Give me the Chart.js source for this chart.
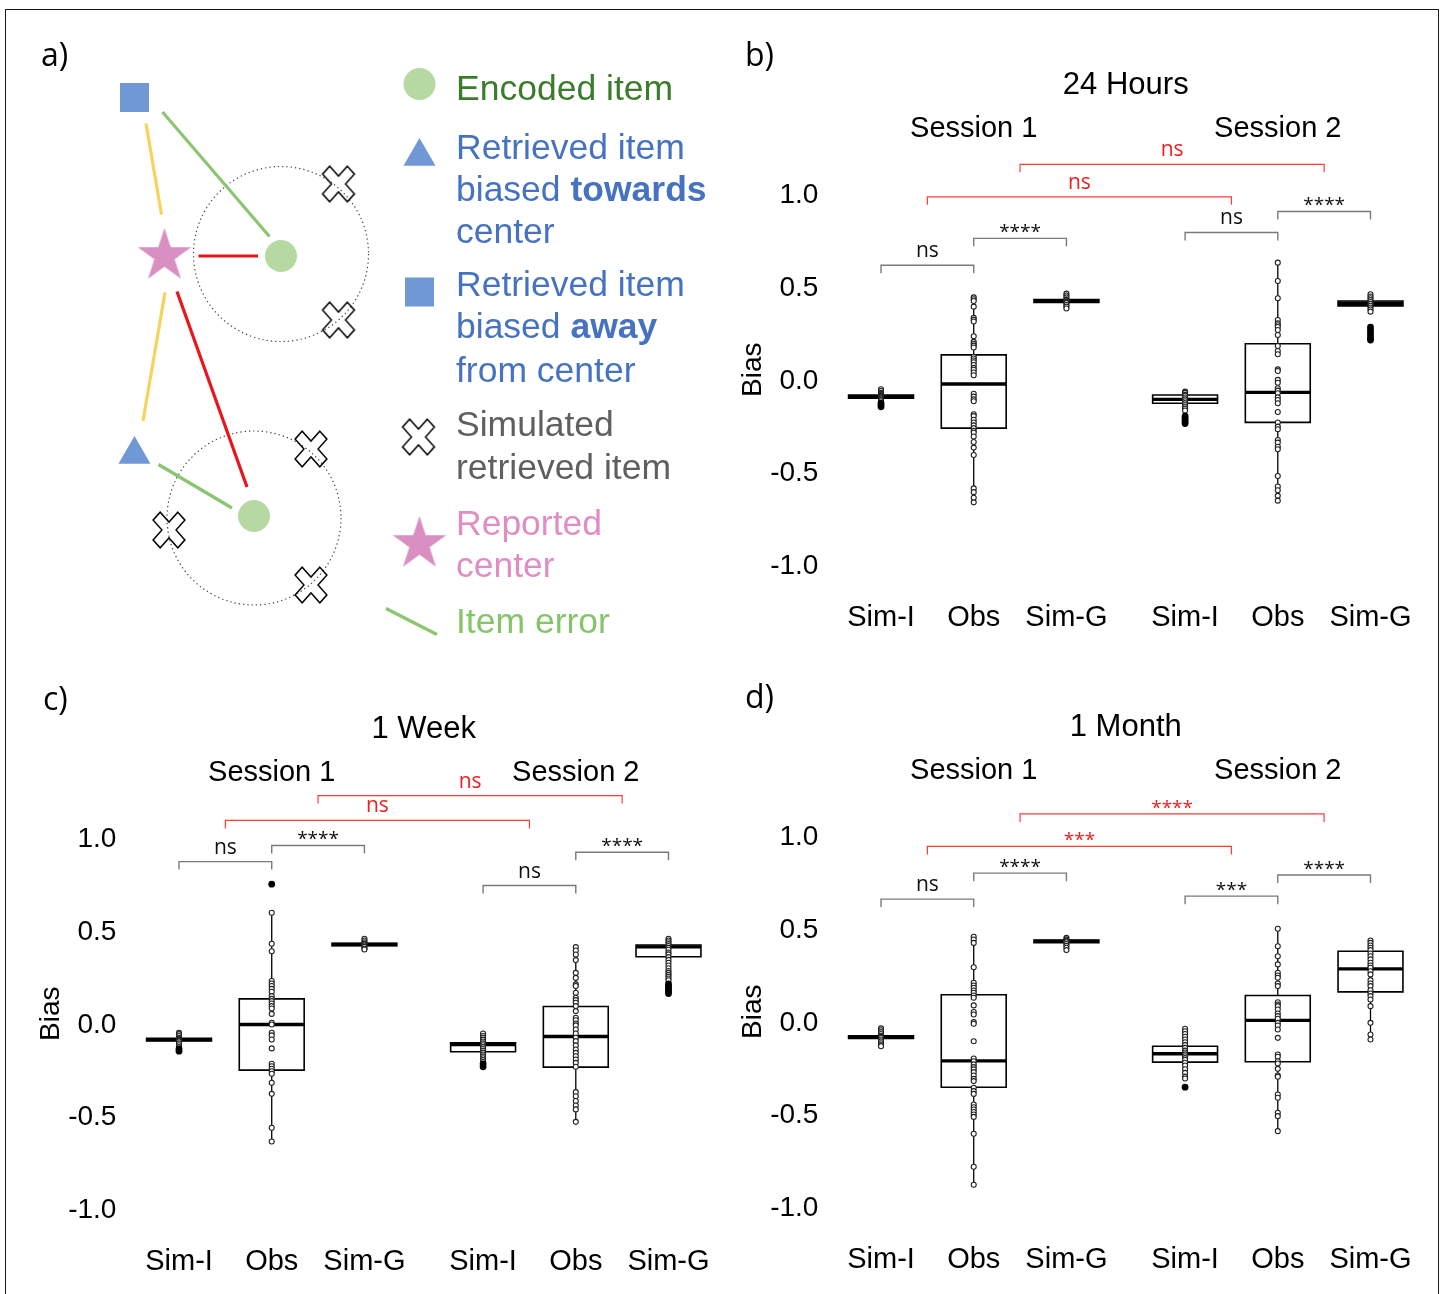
<!DOCTYPE html>
<html>
<head>
<meta charset="utf-8">
<title>Bias by retention delay</title>
<script src="https://cdn.jsdelivr.net/npm/chart.js@4.4.1/dist/chart.umd.min.js"></script>
<style>
  html, body { margin: 0; padding: 0; background: #fff; }
  body { width: 1443px; height: 1294px; position: relative; overflow: hidden; }
  #frame { position: absolute; left: 5px; top: 9px; width: 1434px; height: 1320px; border: 1.5px solid #1a1a1a; box-sizing: border-box; }
  canvas { position: absolute; }
</style>
</head>
<body>
<div id="frame"></div>
<canvas id="diagram" width="714" height="650" style="left:6px;top:10px"></canvas>
<canvas id="hours" width="710" height="620" style="left:730px;top:30px"></canvas>
<canvas id="week" width="710" height="620" style="left:28px;top:674px"></canvas>
<canvas id="month" width="710" height="620" style="left:730px;top:672px"></canvas>
<script>
const SANS = '"Liberation Sans", Arial, sans-serif';
const OPEN = '"Open Sans", "DejaVu Sans", sans-serif';

// ---- data ----
const categories = ['Sim-I', 'Obs', 'Sim-G', 'Sim-I', 'Obs', 'Sim-G'];
const catPos = [1, 2, 3, 4.28, 5.28, 6.28];
const yTickValues = [-1, -0.5, 0, 0.5, 1];
const sessions = ['Session 1', 'Session 2'];
// compared pairs (category index, .5 = between two boxes)
const comparisons = [[0, 1], [1, 2], [3, 4], [4, 5], [0.5, 3.5], [1.5, 4.5]];

// b) 24 hours
const hoursQ1 = [-0.104, -0.265, 0.412, -0.131, -0.234, 0.394];
const hoursMedian = [-0.095, -0.027, 0.42, -0.11, -0.072, 0.408];
const hoursQ3 = [-0.086, 0.13, 0.428, -0.086, 0.19, 0.42];
const hoursPoints = [
  [-0.055, -0.065, -0.075, -0.08, -0.085, -0.09, -0.095, -0.1, -0.105, -0.11, -0.115, -0.12],
  [0.44, 0.43, 0.42, 0.39, 0.33, 0.32, 0.31, 0.23, 0.20, 0.19, 0.18, 0.17, 0.12, 0.11, 0.10, 0.09, 0.075, 0.06, 0.05, 0.035, 0.02,
   -0.08, -0.095, -0.11, -0.12, -0.19, -0.20, -0.22, -0.235, -0.25, -0.265, -0.28, -0.29, -0.31, -0.34, -0.37, -0.41, -0.59, -0.61, -0.64, -0.665],
  [0.46, 0.45, 0.44, 0.43, 0.425, 0.42, 0.415, 0.41, 0.40, 0.39, 0.38],
  [-0.068, -0.075, -0.085, -0.09, -0.1, -0.11, -0.12, -0.13, -0.14, -0.15, -0.16, -0.17],
  [0.627, 0.528, 0.435, 0.318, 0.30, 0.29, 0.28, 0.264, 0.237, 0.178, 0.151, 0.133, 0.052, 0.043, -0.005, -0.02, -0.05, -0.063,
   -0.077, -0.099, -0.113, -0.131, -0.178, -0.235, -0.257, -0.271, -0.329, -0.343, -0.365, -0.379, -0.523, -0.58, -0.60, -0.63, -0.656],
  [0.457, 0.445, 0.435, 0.425, 0.415, 0.405, 0.395, 0.385, 0.375, 0.363]
];
const hoursOutliers = [[-0.13, -0.14, -0.15], [], [], [-0.2, -0.21, -0.22, -0.23, -0.24], [], [0.28, 0.265, 0.25, 0.235, 0.22, 0.21]];
const hoursSignif = ['ns', '****', 'ns', '****', 'ns', 'ns'];

// c) 1 week
const weekQ1 = [-0.097, -0.254, 0.416, -0.155, -0.238, 0.357];
const weekMedian = [-0.09, -0.008, 0.423, -0.116, -0.073, 0.41];
const weekQ3 = [-0.083, 0.13, 0.43, -0.107, 0.089, 0.42];
const weekPoints = [
  [-0.053, -0.06, -0.07, -0.08, -0.085, -0.09, -0.095, -0.1, -0.11, -0.12, -0.13],
  [0.594, 0.427, 0.387, 0.226, 0.213, 0.199, 0.184, 0.168, 0.145, 0.13, 0.118, 0.105, 0.091, 0.078, 0.049, 0.001, -0.008, -0.053,
   -0.067, -0.089, -0.137, -0.22, -0.233, -0.247, -0.26, -0.274, -0.322, -0.382, -0.565, -0.639],
  [0.454, 0.445, 0.435, 0.428, 0.423, 0.418, 0.41, 0.40, 0.396],
  [-0.057, -0.07, -0.08, -0.09, -0.1, -0.11, -0.12, -0.13, -0.14, -0.15, -0.16, -0.17, -0.18, -0.19, -0.2, -0.21],
  [0.409, 0.391, 0.369, 0.339, 0.27, 0.243, 0.208, 0.199, 0.163, 0.136, 0.123, 0.109, 0.091, 0.064, 0.028, 0.015, -0.003, -0.013,
   -0.035, -0.057, -0.08, -0.098, -0.121, -0.143, -0.161, -0.179, -0.197, -0.215, -0.236, -0.373, -0.395, -0.421, -0.445, -0.466, -0.533],
  [0.454, 0.445, 0.435, 0.425, 0.415, 0.405, 0.395, 0.38, 0.37, 0.355, 0.34, 0.325, 0.31, 0.295, 0.28, 0.27, 0.26, 0.25, 0.24, 0.23]
];
const weekOutliers = [[-0.14, -0.152], [0.748], [], [-0.22, -0.236], [], [0.21, 0.2, 0.19, 0.18, 0.17, 0.159]];
const weekSignif = ['ns', '****', 'ns', '****', 'ns', 'ns'];

// d) 1 month
const monthQ1 = [-0.094, -0.357, 0.422, -0.222, -0.22, 0.157];
const monthMedian = [-0.087, -0.215, 0.429, -0.177, 0.003, 0.281];
const monthQ3 = [-0.08, 0.141, 0.436, -0.136, 0.137, 0.376];
const monthPoints = [
  [-0.04, -0.05, -0.06, -0.07, -0.08, -0.085, -0.09, -0.1, -0.11, -0.12, -0.13, -0.136],
  [0.454, 0.439, 0.421, 0.29, 0.206, 0.191, 0.179, 0.164, 0.152, 0.137, 0.125, 0.084, 0.048, 0.035, -0.006, -0.015, -0.109, -0.202,
   -0.217, -0.234, -0.249, -0.261, -0.276, -0.294, -0.312, -0.324, -0.36, -0.378, -0.393, -0.45, -0.465, -0.477, -0.491, -0.504,
   -0.517, -0.608, -0.786, -0.883],
  [0.448, 0.44, 0.434, 0.429, 0.424, 0.415, 0.405, 0.395, 0.382],
  [-0.042, -0.055, -0.07, -0.085, -0.1, -0.115, -0.13, -0.145, -0.16, -0.17, -0.18, -0.19, -0.2, -0.21, -0.225, -0.24, -0.26, -0.28, -0.3, -0.31],
  [0.497, 0.403, 0.349, 0.305, 0.26, 0.245, 0.233, 0.202, 0.188, 0.101, 0.089, 0.08, 0.062, 0.04, 0.026, 0.012, -0.01, -0.024,
   -0.046, -0.091, -0.181, -0.193, -0.217, -0.229, -0.258, -0.294, -0.301, -0.396, -0.414, -0.495, -0.513, -0.594],
  [0.434, 0.421, 0.407, 0.395, 0.382, 0.364, 0.349, 0.332, 0.314, 0.299, 0.287, 0.268, 0.251, 0.22, 0.202, 0.188, 0.166, 0.148,
   0.134, 0.116, 0.08, -0.01, -0.073, -0.1]
];
const monthOutliers = [[], [], [], [-0.357], [], []];
const monthSignif = ['ns', '****', '***', '****', '***', '****'];

// a) diagram (canvas coordinates of the figure)
const encodedItems = [[281, 256], [254, 516], [419.5, 84]];
const towardItems = [[134.5, 454.5], [419.5, 156.5]];
const awayItems = [[134.5, 97.5], [419.5, 292]];
const simulatedItems = [[338.5, 184], [338.5, 320], [311, 449], [169, 530], [311, 585], [418.5, 437]];
const reportedCenters = [[164.5, 256], [419.5, 544]];
const errorCircles = [{ c: [281, 254], r: 87.5 }, { c: [254, 518], r: 87 }];
const links = [
  { from: [146, 123.5], to: [161.5, 214.5], kind: 'dist' },
  { from: [165, 292.5], to: [143, 421], kind: 'dist' },
  { from: [162.5, 112], to: [269.5, 236.5], kind: 'item' },
  { from: [158.5, 464.5], to: [232, 508], kind: 'item' },
  { from: [198.5, 256], to: [258, 256], kind: 'center' },
  { from: [177, 291.5], to: [247, 487], kind: 'center' },
  { from: [386, 608.5], to: [437, 634.5], kind: 'item' }
];
const legendRows = [
  { y: 100, color: '#3b7b2c', parts: [['Encoded item', false]] },
  { y: 159, color: '#4672c2', parts: [['Retrieved item', false]] },
  { y: 201, color: '#4672c2', parts: [['biased ', false], ['towards', true]] },
  { y: 243, color: '#4672c2', parts: [['center', false]] },
  { y: 295.5, color: '#4672c2', parts: [['Retrieved item', false]] },
  { y: 338, color: '#4672c2', parts: [['biased ', false], ['away', true]] },
  { y: 381.5, color: '#4672c2', parts: [['from center', false]] },
  { y: 435.5, color: '#5f5f5f', parts: [['Simulated', false]] },
  { y: 479, color: '#5f5f5f', parts: [['retrieved item', false]] },
  { y: 535, color: '#e08dc4', parts: [['Reported', false]] },
  { y: 577, color: '#e08dc4', parts: [['center', false]] },
  { y: 633, color: '#86c46b', parts: [['Item error', false]] }
];

// ---- styling helpers ----
const linkColors = { dist: '#f6d35c', item: '#8cc572', center: '#e8161c' };

function starImage(R, color) {
  const c = document.createElement('canvas');
  const size = Math.ceil(2 * R) + 2;
  c.width = size; c.height = size;
  const g = c.getContext('2d');
  g.translate(size / 2, size / 2);
  g.beginPath();
  for (let k = 0; k < 10; k++) {
    const rr = k % 2 ? R * 0.382 : R;
    const a = -Math.PI / 2 + k * Math.PI / 5;
    g.lineTo(rr * Math.cos(a), rr * Math.sin(a));
  }
  g.closePath();
  g.fillStyle = color;
  g.fill();
  return c;
}

function crossImage() {
  const c = document.createElement('canvas');
  c.width = 40; c.height = 44;
  const g = c.getContext('2d');
  g.translate(20, 22);
  g.scale(1, 1.12);
  g.rotate(Math.PI / 4);
  const t = 5, L = 17.5;
  const pts = [[-t, -L], [t, -L], [t, -t], [L, -t], [L, t], [t, t], [t, L], [-t, L], [-t, t], [-L, t], [-L, -t], [-t, -t]];
  g.beginPath();
  pts.forEach(([a, b], k) => k ? g.lineTo(a, b) : g.moveTo(a, b));
  g.closePath();
  g.lineWidth = 1.4;
  g.strokeStyle = '#000';
  g.stroke();
  return c;
}

function markerSet(list, style, radius, color) {
  return {
    data: list.map(([x, y]) => ({ x, y })),
    pointStyle: style, pointRadius: radius,
    pointBackgroundColor: color, pointBorderColor: color, pointBorderWidth: 0,
    order: 1
  };
}

// ---- a) diagram ----
const diagramDecor = {
  id: 'diagramDecor',
  beforeDatasetsDraw(chart) {
    const { ctx } = chart, x = chart.scales.x, y = chart.scales.y;
    ctx.save();
    ctx.setLineDash([1.3, 3]);
    ctx.strokeStyle = '#444';
    ctx.lineWidth = 1.2;
    errorCircles.forEach(e => {
      ctx.beginPath();
      ctx.arc(x.getPixelForValue(e.c[0]), y.getPixelForValue(e.c[1]), e.r, 0, Math.PI * 2);
      ctx.stroke();
    });
    ctx.restore();
  },
  afterDraw(chart) {
    const { ctx } = chart, x = chart.scales.x, y = chart.scales.y;
    ctx.save();
    ctx.textBaseline = 'alphabetic';
    ctx.textAlign = 'left';
    ctx.fillStyle = '#000';
    ctx.font = '32px ' + OPEN;
    ctx.fillText('a)', 35, 56);
    legendRows.forEach(row => {
      let xx = x.getPixelForValue(456);
      row.parts.forEach(([txt, bold]) => {
        ctx.font = (bold ? 'bold ' : '') + '35.5px ' + SANS;
        ctx.fillStyle = row.color;
        ctx.fillText(txt, xx, y.getPixelForValue(row.y));
        xx += ctx.measureText(txt).width;
      });
    });
    ctx.restore();
  }
};

new Chart(document.getElementById('diagram'), {
  type: 'scatter',
  data: {
    datasets: [
      markerSet(encodedItems, 'circle', 16, '#b6d9a3'),
      markerSet(towardItems, 'triangle', 18.5, '#6f98d5'),
      markerSet(awayItems, 'rect', 20.5, '#6f98d5'),
      markerSet(reportedCenters, starImage(28, '#d98fc1'), 10, '#d98fc1'),
      markerSet(simulatedItems, crossImage(), 10, '#111'),
      ...links.map(l => ({
        data: [{ x: l.from[0], y: l.from[1] }, { x: l.to[0], y: l.to[1] }],
        showLine: true, borderColor: linkColors[l.kind], borderWidth: 3.2,
        pointRadius: 0, order: 2
      }))
    ]
  },
  options: {
    responsive: false, animation: false, events: [], devicePixelRatio: 1,
    layout: { padding: 0, autoPadding: false },
    scales: {
      x: { type: 'linear', display: false, min: 6, max: 720 },
      y: { type: 'linear', display: false, min: 10, max: 660, reverse: true }
    },
    plugins: { legend: { display: false }, tooltip: { enabled: false } }
  },
  plugins: [diagramDecor]
});

// ---- b), c), d) box plots ----
function posAt(i) {
  const lo = Math.floor(i), hi = Math.ceil(i);
  return catPos[lo] + (catPos[hi] - catPos[lo]) * (i - lo);
}

function seg(coords, width, order, cap) {
  return {
    data: coords.map(([x, y]) => ({ x, y })),
    showLine: true, borderColor: '#000', borderWidth: width,
    borderCapStyle: cap || 'butt', pointRadius: 0, order
  };
}

function boxDatasets(p) {
  const hw = 0.35, ds = [];
  catPos.forEach((cx, i) => {
    const pts = p.points[i];
    const lo = Math.min(...pts), hi = Math.max(...pts);
    ds.push(seg([[cx, p.q3[i]], [cx, hi]], 1.3, 4));
    ds.push(seg([[cx, p.q1[i]], [cx, lo]], 1.3, 4));
    ds.push(seg([[cx - hw, p.q1[i]], [cx + hw, p.q1[i]], [cx + hw, p.q3[i]], [cx - hw, p.q3[i]], [cx - hw, p.q1[i]]], 1.6, 3, 'square'));
    ds.push(seg([[cx - hw, p.median[i]], [cx + hw, p.median[i]]], 3.4, 2));
    ds.push({
      data: pts.map(v => ({ x: cx, y: v })),
      pointRadius: 2.5, pointBackgroundColor: '#fff', pointBorderColor: '#222', pointBorderWidth: 1.1, order: 1
    });
    if (p.outliers[i].length) {
      ds.push({
        data: p.outliers[i].map(v => ({ x: cx, y: v })),
        pointRadius: 3.4, pointBackgroundColor: '#000', pointBorderColor: '#000', pointBorderWidth: 0, order: 0
      });
    }
  });
  return ds;
}

function annotator(p) {
  return {
    id: 'annot_' + p.id,
    afterDraw(chart) {
      const { ctx } = chart, x = chart.scales.x, y = chart.scales.y;
      ctx.save();
      ctx.fillStyle = '#000';
      ctx.textAlign = 'left';
      ctx.textBaseline = 'alphabetic';
      ctx.font = '32px ' + OPEN;
      ctx.fillText(p.letter, 15, 36);

      ctx.textAlign = 'center';
      ctx.textBaseline = 'middle';
      ctx.font = '31px ' + SANS;
      ctx.fillText(p.title, x.getPixelForValue(3.64), y.getPixelForValue(1.58));
      ctx.font = '29px ' + SANS;
      ctx.fillText(sessions[0], x.getPixelForValue(catPos[1]), y.getPixelForValue(1.345));
      ctx.fillText(sessions[1], x.getPixelForValue(catPos[4]), y.getPixelForValue(1.345));

      comparisons.forEach(([a, b], k) => {
        const red = k >= 4;
        const x1 = x.getPixelForValue(posAt(a)), x2 = x.getPixelForValue(posAt(b));
        const yy = y.getPixelForValue(p.bracketY[k]);
        ctx.strokeStyle = red ? '#ff3a3a' : '#7a7a7a';
        ctx.lineWidth = red ? 1.2 : 1.4;
        ctx.beginPath();
        ctx.moveTo(x1, yy + 8);
        ctx.lineTo(x1, yy);
        ctx.lineTo(x2, yy);
        ctx.lineTo(x2, yy + 8);
        ctx.stroke();
        const lab = p.signif[k];
        const star = lab.charAt(0) === '*';
        ctx.fillStyle = red ? '#f01e1e' : '#111';
        ctx.textBaseline = 'alphabetic';
        ctx.font = (star ? '19px ' : '21px ') + OPEN;
        ctx.fillText(lab, (x1 + x2) / 2, star ? yy : yy - 8);
      });
      ctx.restore();
    }
  };
}

function panelChart(p) {
  return new Chart(document.getElementById(p.id), {
    type: 'scatter',
    data: { datasets: boxDatasets(p) },
    options: {
      responsive: false, animation: false, events: [], devicePixelRatio: 1,
      layout: { padding: { left: 0, right: 21.3, top: 117.1, bottom: 0 }, autoPadding: false },
      scales: {
        x: {
          type: 'linear', min: 0.4, max: 6.8,
          grid: { display: false, drawTicks: false }, border: { display: false },
          afterBuildTicks: s => { s.ticks = catPos.map(v => ({ value: v })); },
          afterFit: s => { s.height = 57.7; },
          ticks: {
            autoSkip: false, maxRotation: 0, padding: 8, color: '#000',
            font: { family: SANS, size: 29 },
            callback: (v, i) => categories[i]
          }
        },
        y: {
          type: 'linear', min: -1.15, max: 1.25,
          grid: { display: false, drawTicks: false }, border: { display: false },
          afterBuildTicks: s => { s.ticks = yTickValues.map(v => ({ value: v })); },
          afterFit: s => { s.width = 95.4; },
          ticks: { padding: 7, labelOffset: 2, color: '#000', font: { family: SANS, size: 28 }, callback: v => v.toFixed(1) },
          title: { display: true, text: 'Bias', color: '#000', font: { family: SANS, size: 28 }, padding: { top: 6, bottom: 0 } }
        }
      },
      plugins: { legend: { display: false }, tooltip: { enabled: false } }
    },
    plugins: [annotator(p)]
  });
}

panelChart({
  id: 'hours', letter: 'b)', title: '24 Hours',
  q1: hoursQ1, median: hoursMedian, q3: hoursQ3, points: hoursPoints, outliers: hoursOutliers, signif: hoursSignif,
  bracketY: [0.613, 0.758, 0.79, 0.903, 0.982, 1.157]
});
panelChart({
  id: 'week', letter: 'c)', title: '1 Week',
  q1: weekQ1, median: weekMedian, q3: weekQ3, points: weekPoints, outliers: weekOutliers, signif: weekSignif,
  bracketY: [0.87, 0.957, 0.741, 0.92, 1.092, 1.226]
});
panelChart({
  id: 'month', letter: 'd)', title: '1 Month',
  q1: monthQ1, median: monthMedian, q3: monthQ3, points: monthPoints, outliers: monthOutliers, signif: monthSignif,
  bracketY: [0.657, 0.797, 0.673, 0.787, 0.941, 1.116]
});
</script>
</body>
</html>
